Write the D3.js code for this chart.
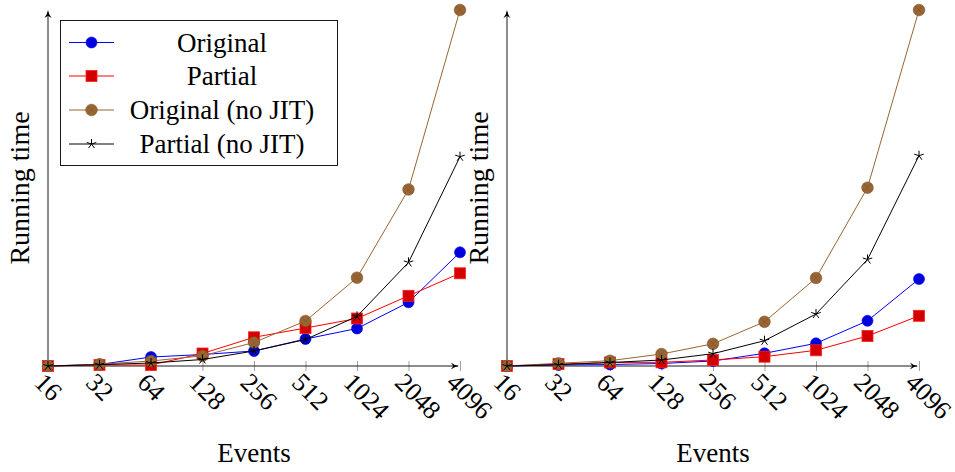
<!DOCTYPE html>
<html>
<head>
<meta charset="utf-8">
<script src="https://cdn.jsdelivr.net/npm/d3@7"></script>
<style>
  html, body { margin: 0; padding: 0; background: #fff; }
  svg { display: block; }
</style>
</head>
<body>
<svg id="chart" width="955" height="472"></svg>
<script>
// Number of events per run (x categories)
const events = ["16", "32", "64", "128", "256", "512", "1024", "2048", "4096"];

// Series names
const seriesNames = ["Original", "Partial", "Original (no JIT)", "Partial (no JIT)"];

// Left plot: running time (arbitrary units)
const leftOriginal      = [0, 1.5, 9.0, 11.5, 15.0, 27.0, 37.5, 63.7, 113.7];
const leftPartial       = [0, 1.0, 1.0, 12.5, 28.7, 38.0, 47.5, 70.2, 92.7];
const leftOriginalNoJit = [0, 1.8, 5.0, 10.2, 23.5, 45.0, 88.3, 176.5, 356];
const leftPartialNoJit  = [0, 1.3, 3.0, 6.5, 15.0, 26.5, 49.6, 103.6, 209.3];

// Right plot: running time (arbitrary units)
const rightOriginal      = [0, 1.0, 1.5, 2.5, 5.0, 12.7, 22.7, 45.2, 87.0];
const rightPartial       = [0, 2.0, 3.5, 3.7, 6.0, 9.3, 15.7, 30.0, 50.2];
const rightOriginalNoJit = [0, 2.7, 5.3, 12.0, 22.2, 44.2, 88.0, 178.3, 356];
const rightPartialNoJit  = [0, 1.3, 3.5, 6.0, 12.3, 25.3, 52.0, 106.5, 210.3];

const xLabel = "Events";
const yLabel = "Running time";

const serif = "'Tinos', 'Noto Serif', 'FreeSerif', 'Nimbus Roman', 'Nimbus Roman No9 L', 'Latin Modern Roman', 'CMU Serif', 'Liberation Serif', 'Times New Roman', Times, 'DejaVu Serif', serif";
const svg = d3.select("#chart");

const styles = [
  { line: "#0000ff", fill: "#0000dd", stroke: "#0000ff", mark: "circle" },
  { line: "#ff0000", fill: "#d40000", stroke: "#ff2020", mark: "square" },
  { line: "#996633", fill: "#996633", stroke: "#7a5028", mark: "otimes" },
  { line: "#000000", fill: "none",    stroke: "#000000", mark: "star" }
];

function drawMark(g, kind, st, x, y) {
  if (kind === "circle") {
    g.append("circle").attr("cx", x).attr("cy", y).attr("r", 5.5)
      .attr("fill", st.fill).attr("stroke", st.stroke).attr("stroke-width", 0.6);
  } else if (kind === "square") {
    g.append("rect").attr("x", x - 5.5).attr("y", y - 5.5).attr("width", 11).attr("height", 11)
      .attr("fill", st.fill).attr("stroke", st.stroke).attr("stroke-width", 0.8);
  } else if (kind === "otimes") {
    const r = 5.8, d = r * Math.SQRT1_2;
    g.append("circle").attr("cx", x).attr("cy", y).attr("r", r)
      .attr("fill", st.fill).attr("stroke", st.stroke).attr("stroke-width", 0.6);
    g.append("path")
      .attr("d", `M${x - d},${y - d}L${x + d},${y + d}M${x - d},${y + d}L${x + d},${y - d}`)
      .attr("stroke", st.stroke).attr("stroke-width", 0.6).attr("fill", "none");
  } else if (kind === "star") {
    const r = 5;
    let p = "";
    for (let k = 0; k < 5; k++) {
      const a = -Math.PI / 2 + k * 2 * Math.PI / 5;
      p += `M${x},${y}L${x + r * Math.cos(a)},${y + r * Math.sin(a)}`;
    }
    g.append("path").attr("d", p).attr("stroke", st.stroke).attr("stroke-width", 1).attr("fill", "none");
  }
}

function arrowHead(g, x, y, dir) {
  // small latex-style arrow tip pointing in dir ("up" or "right")
  const L = 8, W = 3.6;
  let p;
  if (dir === "up") {
    p = `M${x},${y}Q${x + 0.6},${y + L * 0.6} ${x + W},${y + L}L${x},${y + L - 2.2}L${x - W},${y + L}Q${x - 0.6},${y + L * 0.6} ${x},${y}Z`;
  } else {
    p = `M${x},${y}Q${x - L * 0.6},${y + 0.6} ${x - L},${y + W}L${x - L + 2.2},${y}L${x - L},${y - W}Q${x - L * 0.6},${y - 0.6} ${x},${y}Z`;
  }
  g.append("path").attr("d", p).attr("fill", "#000");
}

function drawPanel(x0, x1, series, showLegend) {
  const yTop = 10, yBottom = 366;
  const g = svg.append("g");

  const x = d3.scalePoint().domain(events).range([x0, x1]);
  const y = d3.scaleLinear().domain([0, 356]).range([yBottom, yTop]);

  // x ticks and rotated labels
  const axis = g.append("g").attr("transform", `translate(0,${yBottom})`)
    .call(d3.axisBottom(x).tickSizeOuter(0).tickSizeInner(0).tickPadding(0));
  axis.attr("font-family", null).attr("font-size", null);
  axis.select(".domain").remove();
  axis.selectAll(".tick line").attr("y1", -5).attr("y2", 5)
    .attr("stroke", "#888").attr("stroke-width", 0.8);
  axis.selectAll(".tick text")
    .attr("text-anchor", "start")
    .style("font-family", serif)
    .style("font-size", "26px")
    .attr("dy", null)
    .attr("y", null)
    .attr("transform", "translate(-15.5,18) rotate(45)");

  // axis lines with arrow tips
  g.append("line").attr("x1", x0).attr("x2", x1 - 2).attr("y1", yBottom).attr("y2", yBottom)
    .attr("stroke", "#000").attr("stroke-width", 0.9);
  arrowHead(g, x1 - 1, yBottom, "right");
  g.append("line").attr("x1", x0).attr("x2", x0).attr("y1", yBottom).attr("y2", yTop + 2)
    .attr("stroke", "#000").attr("stroke-width", 0.9);
  arrowHead(g, x0, yTop, "up");

  // axis titles
  g.append("text").attr("x", (x0 + x1) / 2).attr("y", 462)
    .style("font-family", serif).style("font-size", "27px")
    .attr("text-anchor", "middle").text(xLabel);
  g.append("text")
    .attr("transform", `translate(${x0 - 19},${(yTop + yBottom) / 2}) rotate(-90)`)
    .style("font-family", serif).style("font-size", "28px")
    .attr("text-anchor", "middle").text(yLabel);

  // series lines then markers, in plotting order
  const line = d3.line().x((d, i) => x(events[i])).y(d => y(d));
  series.forEach((vals, s) => {
    const st = styles[s];
    const sg = g.append("g");
    sg.append("path").datum(vals).attr("d", line)
      .attr("fill", "none").attr("stroke", st.line).attr("stroke-width", 1);
    vals.forEach((v, i) => drawMark(sg, st.mark, st, x(events[i]), y(v)));
  });

  if (showLegend) {
    const lg = g.append("g");
    lg.append("rect").attr("x", 60.5).attr("y", 20.5).attr("width", 277).attr("height", 145)
      .attr("fill", "#fff").attr("stroke", "#000").attr("stroke-width", 0.9);
    const rowY = [42.5, 76, 110, 144];
    seriesNames.forEach((name, s) => {
      const st = styles[s];
      const cy = rowY[s];
      lg.append("line").attr("x1", 69).attr("x2", 114).attr("y1", cy).attr("y2", cy)
        .attr("stroke", st.line).attr("stroke-width", 1);
      drawMark(lg, st.mark, st, 91.5, cy);
      lg.append("text").attr("x", 222).attr("y", cy + 9)
        .style("font-family", serif).style("font-size", "27px")
        .attr("text-anchor", "middle").text(name);
    });
  }
}

drawPanel(48, 460, [leftOriginal, leftPartial, leftOriginalNoJit, leftPartialNoJit], true);
drawPanel(507, 919, [rightOriginal, rightPartial, rightOriginalNoJit, rightPartialNoJit], false);
</script>
</body>
</html>
